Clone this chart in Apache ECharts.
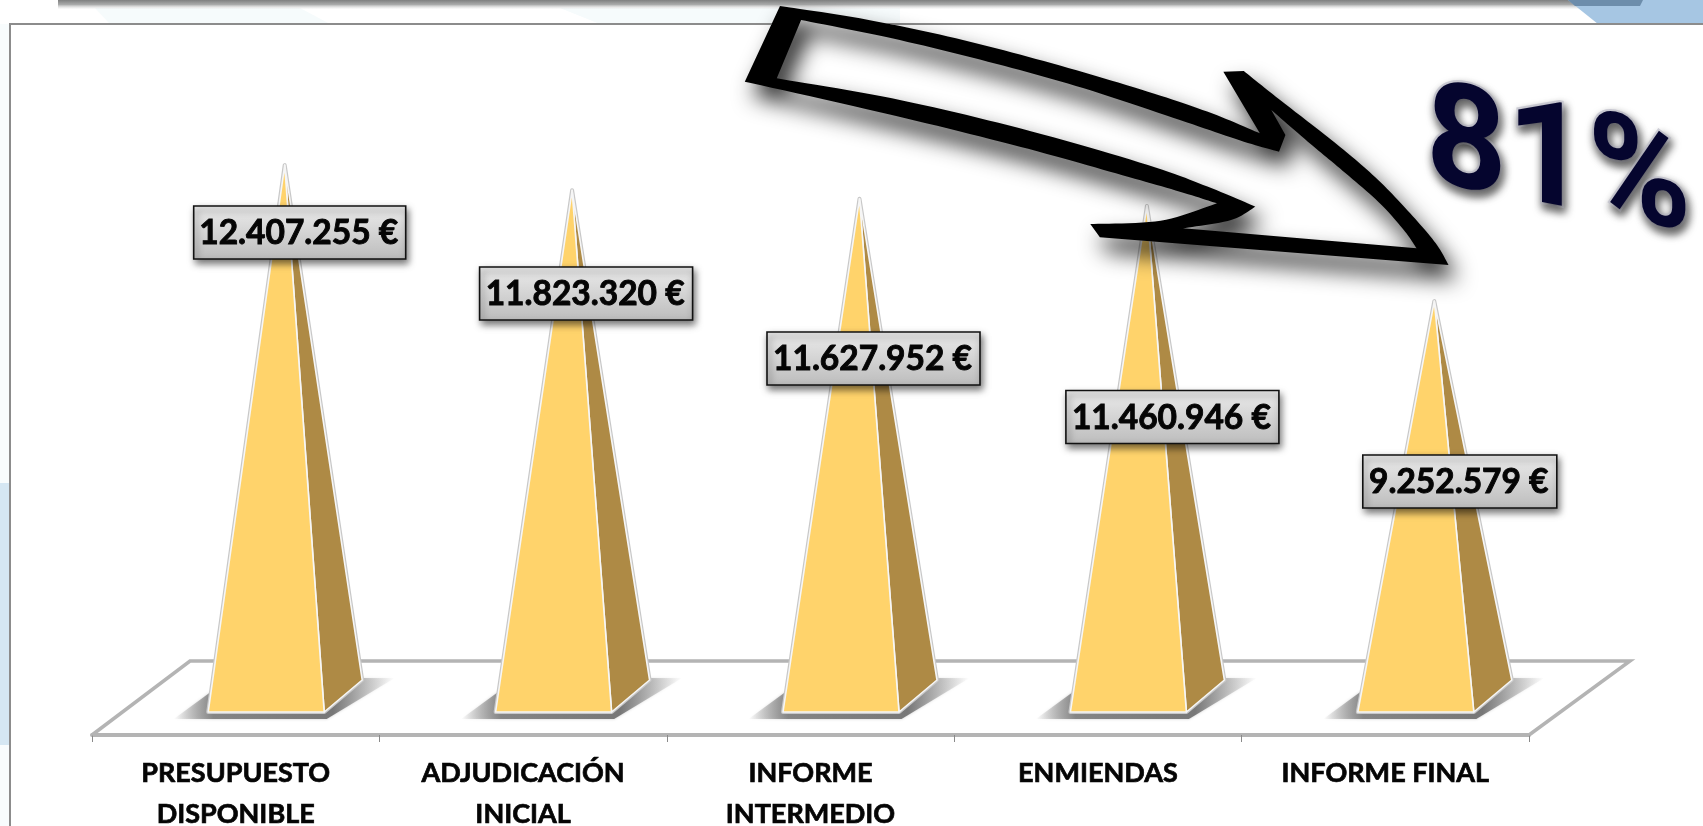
<!DOCTYPE html>
<html>
<head>
<meta charset="utf-8">
<style>html,body{margin:0;padding:0;background:#fff;overflow:hidden}#c{width:1703px;height:826px}</style>
<script src="https://cdn.jsdelivr.net/npm/echarts@6/dist/echarts.min.js"></script>
</head>
<body>
<div id="c"></div>
<script>
// ---- data ----
const categories = ['PRESUPUESTO\nDISPONIBLE', 'ADJUDICACIÓN\nINICIAL', 'INFORME\nINTERMEDIO', 'ENMIENDAS', 'INFORME FINAL'];
const amounts = [12407255, 11823320, 11627952, 11460946, 9252579];
const callout = '81%';

// ---- layout of the manually placed value boxes ----
const boxDX = [15, 14, 14, 25.5, 25.5];
const boxCY = [232.5, 293.5, 358.5, 417, 481.5];
const boxW = [212, 213, 213, 213, 194];

const euro = v => String(v).replace(/\B(?=(\d{3})+$)/g, '.') + ' €';

// ---- arrow outline helpers (decoration, not data) ----
const zp = p => [700 + p[0] / 1.563, p[1] / 3];
function curve(pts) {
  const out = [];
  for (let i = 0; i < pts.length - 1; i++) {
    const p0 = pts[Math.max(i - 1, 0)], p1 = pts[i], p2 = pts[i + 1], p3 = pts[Math.min(i + 2, pts.length - 1)];
    for (let k = 0; k < 12; k++) {
      const t = k / 12, t2 = t * t, t3 = t2 * t;
      out.push([0, 1].map(a => 0.5 * (2 * p1[a] + (p2[a] - p0[a]) * t + (2 * p0[a] - 5 * p1[a] + 4 * p2[a] - p3[a]) * t2 + (3 * p1[a] - p0[a] - 3 * p2[a] + p3[a]) * t3)));
    }
  }
  out.push(pts[pts.length - 1]);
  return out;
}
const outer = [].concat(
  curve([[125,18],[250,55],[400,115],[550,190],[700,275],[800,340],[875,400]]),
  [[818,215]],
  curve([[850,213],[900,290],[1000,440],[1060,540],[1110,640],[1150,730],[1170,795]]),
  [[625,712]],
  curve([[610,672],[720,662],[808,610]]),
  curve([[808,610],[750,575],[650,520],[500,440],[300,345],[70,245]])
).map(zp);
const inner = [].concat(
  curve([[120,235],[300,295],[500,385],[700,495],[800,565],[868,620]]),
  curve([[868,620],[830,660],[755,685]]),
  curve([[1120,745],[1100,690],[1060,605],[1000,505],[950,425],[893,330]]),
  [[915,405]],
  curve([[905,455],[850,425],[750,360],[600,265],[450,185],[300,115],[158,60]])
).map(zp);
const outline = outer.concat([outer[0], inner[inner.length - 1]], inner, [inner[inner.length - 1], outer[0]]);

function renderPyramid(params, api) {
  const i = api.value(0);
  const top = api.coord([i, api.value(1)]);
  const base = api.coord([i, 0]);
  const cx = top[0] + 49, y0 = base[1], ty = top[1];
  const FL = [cx - 76.5, y0 + 12], FR = [cx + 39.5, y0 + 12], BR = [cx + 77.5, y0 - 20], AP = [cx, ty];
  const w = boxW[i], bx = cx + boxDX[i] - w / 2, by = boxCY[i] - 26.5;
  return {
    type: 'group',
    children: [
      { type: 'polygon', z2: 1, shape: { points: [[cx - 111, y0 + 19], [cx - 74, y0 - 8], [cx + 70, y0 - 22], [cx + 110, y0 - 22], [cx + 42, y0 + 19]] },
        style: { shadowBlur: 3, shadowColor: 'rgba(110,110,110,0.4)', fill: { type: 'linear', x: 0, y: 0, x2: 1, y2: 0, colorStops: [
          { offset: 0, color: 'rgba(120,120,120,0)' }, { offset: 0.18, color: 'rgba(120,120,120,0.85)' },
          { offset: 0.72, color: 'rgba(110,110,110,0.9)' }, { offset: 1, color: 'rgba(150,150,150,0)' }] } } },
      { type: 'polygon', z2: 2, shape: { points: [FL, FR, BR, AP] }, style: { fill: '#fff', stroke: '#c8c8c8', lineWidth: 4, lineJoin: 'round' } },
      { type: 'polygon', z2: 3, shape: { points: [FR, BR, AP] }, style: { fill: '#AE8A45', stroke: '#f6f6f6', lineWidth: 1.6, lineJoin: 'round' } },
      { type: 'polygon', z2: 4, shape: { points: [FL, FR, AP] }, style: { fill: '#FFD36B', stroke: '#f6f6f6', lineWidth: 1.6, lineJoin: 'round' } },
      { type: 'rect', z2: 5, shape: { x: bx, y: by, width: w, height: 53 },
        style: { stroke: '#111', lineWidth: 1.6, shadowBlur: 7, shadowOffsetX: 2, shadowOffsetY: 4, shadowColor: 'rgba(0,0,0,0.55)',
          fill: { type: 'linear', x: 0, y: 0, x2: 0, y2: 1, colorStops: [{ offset: 0, color: '#ececec' }, { offset: 1, color: '#bcbcbc' }] } } },
      { type: 'text', z2: 6, style: { text: euro(api.value(1)), x: bx + w / 2 - 1, y: by + 27.5, align: 'center', verticalAlign: 'middle',
          fill: '#050505', stroke: '#050505', lineWidth: 0.9, font: 'bold 33.5px Lato' } }
    ]
  };
}

function renderCallout() {
  return { type: 'text', x: 1426, y: 216, skewY: -0.19, scaleX: 0.97,
    style: { text: callout, x: 0, y: 0, fontFamily: 'Roboto', fontWeight: 'bold', fontSize: 145, fill: '#05052e', stroke: '#cfcfd8', lineWidth: 4, strokeFirst: true,
      align: 'left', verticalAlign: 'bottom',
      textShadowBlur: 9, textShadowOffsetX: 2, textShadowOffsetY: 5, textShadowColor: 'rgba(0,0,0,0.6)',
      shadowBlur: 9, shadowOffsetX: 2, shadowOffsetY: 5, shadowColor: 'rgba(0,0,0,0.6)' } };
}

const chart = echarts.init(document.getElementById('c'), null, { renderer: 'canvas' });
chart.setOption({
  animation: false,
  backgroundColor: '#fff',
  tooltip: { show: false },
  grid: { left: 92, right: 174, top: 53.34, height: 646.66, outerBoundsMode: 'none' },
  xAxis: {
    type: 'category', data: categories, offset: 35,
    axisLine: { onZero: false, lineStyle: { color: '#b4b4b4', width: 4 } },
    axisTick: { show: true, length: 7, lineStyle: { color: '#8a8a8a', width: 1 } },
    axisLabel: { interval: 0, margin: 18, color: '#050505', fontFamily: 'Lato', fontWeight: 'bold', fontSize: 27, lineHeight: 41,
      textBorderColor: '#050505', textBorderWidth: 0.7 }
  },
  yAxis: { type: 'value', show: false, min: 0, max: 15000000 },
  series: [{
    type: 'custom', renderItem: renderPyramid, clip: false, silent: true,
    encode: { x: 0, y: 1 },
    data: amounts.map((v, i) => [i, v])
  }, {
    type: 'custom', renderItem: renderCallout, clip: false, silent: true, z: 20,
    encode: { x: 0, y: 1 },
    data: [[0, 0]]
  }],
  graphic: { elements: [
    // slide backdrop
    { type: 'rect', z: 0, shape: { x: 0, y: 0, width: 1703, height: 24 }, style: { fill: '#fff' } },
    { type: 'polygon', z: 0, shape: { points: [[95, 8], [300, 8], [330, 24], [110, 24]] }, style: { fill: '#f6fbfc' } },
    { type: 'polygon', z: 0, shape: { points: [[560, 8], [900, 8], [900, 24], [600, 24]] }, style: { fill: '#f6fbfc' } },
    { type: 'rect', z: 0, shape: { x: 58, y: 0, width: 1590, height: 9 },
      style: { fill: { type: 'linear', x: 0, y: 0, x2: 0, y2: 1, colorStops: [{ offset: 0, color: '#7f8080' }, { offset: 0.5, color: '#a9aaaa' }, { offset: 1, color: 'rgba(220,220,220,0.1)' }] } } },
    { type: 'polygon', z: 0, shape: { points: [[1568, 0], [1703, 0], [1703, 24], [1598, 24]] }, style: { fill: '#a6c6e3' } },
    { type: 'polygon', z: 0, shape: { points: [[1568, 0], [1643, 0], [1640, 6], [1575, 6]] }, style: { fill: '#6d8dab' } },
    { type: 'rect', z: 0, shape: { x: 0, y: 24, width: 9, height: 802 }, style: { fill: '#f8fcfd' } },
    { type: 'rect', z: 0, shape: { x: 0, y: 483, width: 9, height: 262 }, style: { fill: '#d5e7f3' } },
    // chart frame
    { type: 'polyline', z: 1, shape: { points: [[10, 830], [10, 24], [1710, 24]] }, style: { stroke: '#8c8c8c', lineWidth: 2, fill: 'none' } },
    // floor
    { type: 'polyline', z: 1, shape: { points: [[92, 735], [190, 661], [1630, 661], [1529, 735]] },
      style: { stroke: '#b4b4b4', lineWidth: 3.5, fill: 'none', lineJoin: 'miter' } },
    // arrow
    { type: 'polygon', z: 50, shape: { points: outer }, style: { fill: '#fff' } },
    { type: 'polygon', z: 51, shape: { points: outline },
      style: { fill: '#000', shadowBlur: 22, shadowOffsetX: 8, shadowOffsetY: 14, shadowColor: 'rgba(0,0,0,0.85)' } }
  ] }
});
</script>
</body>
</html>
